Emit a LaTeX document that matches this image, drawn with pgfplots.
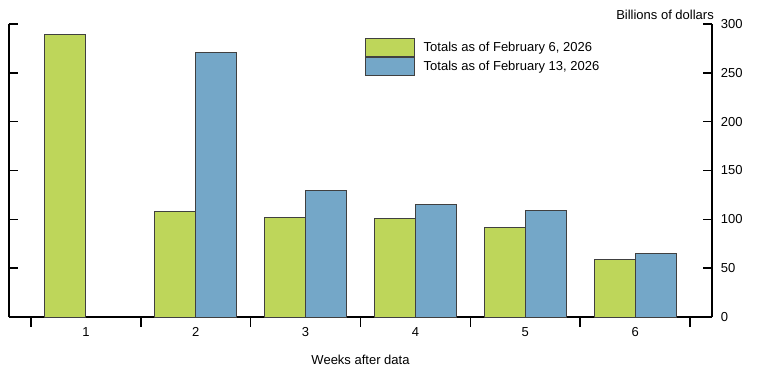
\documentclass[border=0pt]{standalone}
\usepackage{fontspec}
\setmainfont{Liberation Sans}
\usepackage{pgfplots}
\pgfplotsset{compat=1.18}
\definecolor{barg}{RGB}{190,214,90}
\definecolor{barb}{RGB}{116,167,200}
\begin{document}
\begin{tikzpicture}[font=\fontsize{13bp}{15bp}\selectfont]
\pgfplotsset{mybase/.style={scale only axis, width=703bp, height=293bp,
  xmin=0.3, xmax=6.7, ymin=0, ymax=300, ytick={0,50,...,300},
  tick align=inside,
  axis line style={-, line width=1.6bp, black},
  every tick/.style={line width=1.6bp, black},
  /pgf/number format/assume math mode=true,
  ticklabel style={font=\fontsize{13bp}{15bp}\selectfont}}}
\begin{axis}[mybase, axis x line=none, axis y line*=left, yticklabels={}, major tick length=9bp]
\end{axis}
\begin{axis}[mybase, axis x line*=bottom, axis y line*=right,
  ybar=0pt, bar width=41bp,
  major tick length=9.5bp,
  xtick={0.5,1.5,...,6.5}, xticklabels={},
  extra x ticks={1,2,3,4,5,6},
  extra x tick labels={1,2,3,4,5,6},
  extra x tick style={major tick length=0pt, xticklabel style={yshift=-7bp}},
  yticklabel style={xshift=5.4bp},
  legend image code/.code={\draw[#1] (0bp,-9bp) rectangle (49bp,9bp);},
  legend style={at={(rel axis cs:0.506,0.952)}, anchor=north west, draw=none, fill=none,
    inner sep=0pt, row sep=0pt, nodes={inner sep=0pt},
    /tikz/every odd column/.append style={column sep=9bp},
    font=\fontsize{13bp}{15bp}\selectfont},
  legend cell align=left,
]
\addplot[fill=barg, draw=black!75, line width=0.8bp] coordinates {(1,289) (2,108.5) (3,101.5) (4,100.5) (5,92) (6,58.5)};
\addplot[fill=barb, draw=black!75, line width=0.8bp] coordinates {(2,271) (3,130) (4,115.5) (5,109.5) (6,65.5)};
\legend{{Totals as of February 6, 2026}, {Totals as of February 13, 2026}}
\coordinate (O) at (rel axis cs:0,0);
\coordinate (TR) at (rel axis cs:1,1);
\coordinate (BC) at (rel axis cs:0.5,0);
\end{axis}
\node[anchor=base east, inner sep=0pt] at ([xshift=2bp,yshift=5bp]TR) {Billions of dollars};
\node[anchor=base, inner sep=0pt] at ([yshift=-47bp]BC) {Weeks after data};
\path (O) ++(-9bp,-64bp) rectangle ++(761bp,381bp);
\end{tikzpicture}
\end{document}
